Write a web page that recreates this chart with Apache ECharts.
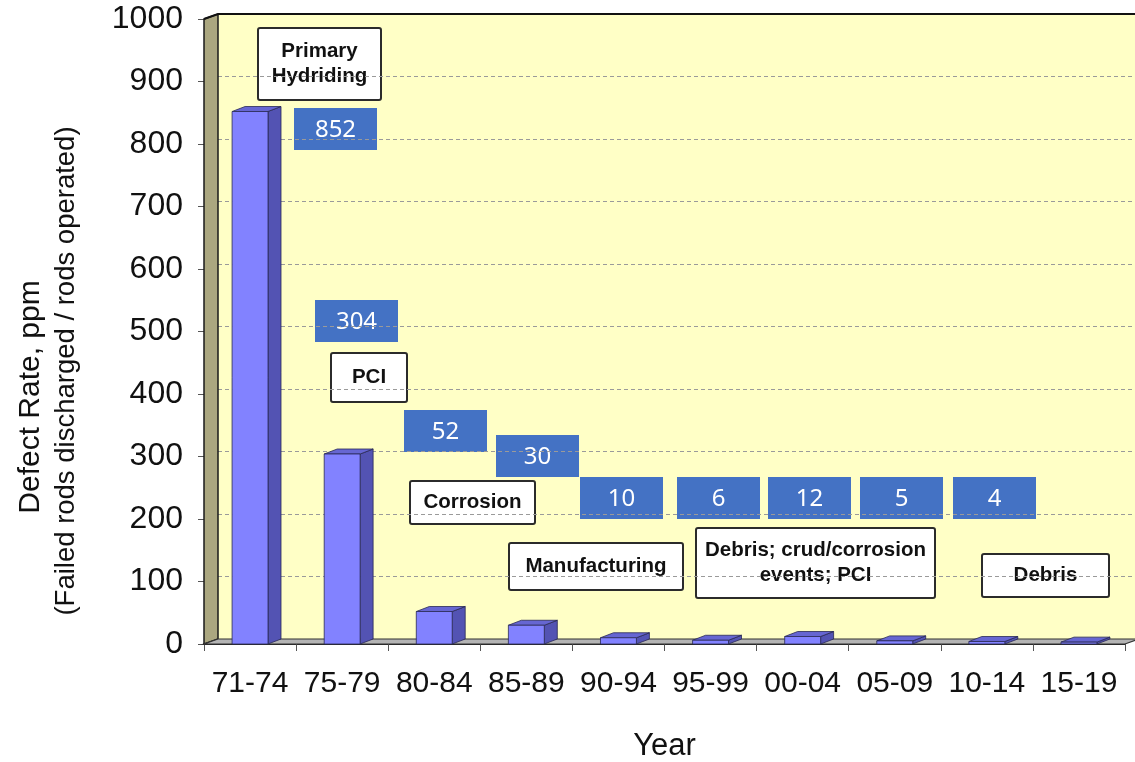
<!DOCTYPE html>
<html><head><meta charset="utf-8">
<script src="https://cdn.jsdelivr.net/npm/echarts@6/dist/echarts.min.js"></script>
<style>html,body{margin:0;padding:0;background:#fff}#c{width:1135px;height:762px}</style>
</head><body><div id="c"></div>
<script>
// ---- data ----
const categories = ['71-74','75-79','80-84','85-89','90-94','95-99','00-04','05-09','10-14','15-19'];
const defectRates = [852, 304, 52, 30, 10, 6, 12, 5, 4, 3];
const labelledRates = [852, 304, 52, 30, 10, 6, 12, 5, 4];
const causeTexts = ['Primary\nHydriding', 'PCI', 'Corrosion', 'Manufacturing', 'Debris; crud/corrosion\nevents; PCI', 'Debris'];
const yMin = 0, yMax = 1000, yStep = 100;

// ---- layout (annotation placement, px) ----
const valueBoxPos = [[294,108],[315,300],[404,410],[496,435],[580,477],[677,477],[768,477],[860,477],[953,477]];
const valueBoxSize = [83, 42];
const causeBoxPos = [[258,28,123,72],[331,353,76,49],[410,481,125,43],[509,543,174,47],[696,528,239,70],[982,554,127,43]];

const WALL_DX = 14, WALL_DY = 5;
const BAR_DX = 13, BAR_DY = 5;
const SANS = 'Liberation Sans, Arial, sans-serif';

function renderWalls(params, api) {
  const cs = params.coordSys;
  const x0 = cs.x, yT = cs.y, yB = cs.y + cs.height, xR = cs.x + cs.width;
  const dx = WALL_DX, dy = WALL_DY;
  return {type:'group', children:[
    {type:'polygon', shape:{points:[[x0,yT],[x0+dx,yT-dy],[x0+dx,yB-dy],[x0,yB]]},
      style:{fill:'#ABA780', stroke:'#1a1a1a', lineWidth:1.5}},
    {type:'polygon', shape:{points:[[x0,yB],[x0+dx,yB-dy],[xR+dx,yB-dy],[xR,yB]]},
      style:{fill:'#B4B4B4', stroke:'#333', lineWidth:1.2}},
    {type:'polyline', shape:{points:[[x0,yT],[x0+dx,yT-dy],[xR+dx+30,yT-dy]]},
      style:{stroke:'#111', lineWidth:2, fill:null}}
  ]};
}

function renderBar(params, api) {
  const idx = api.value(0), v = api.value(1);
  const base = api.coord([idx, 0]);
  const top = api.coord([idx, v]);
  const w = api.size([1, 0])[0] * 0.39;
  const x = base[0] - w / 2, y = top[1], yb = base[1];
  const dx = BAR_DX, dy = BAR_DY;
  const edge = {stroke:'#2a2a55', lineWidth:0.8};
  return {type:'group', children:[
    {type:'polygon', shape:{points:[[x+w,y],[x+w+dx,y-dy],[x+w+dx,yb-dy],[x+w,yb]]},
      style:Object.assign({fill:'#5353B3'}, edge)},
    {type:'polygon', shape:{points:[[x,y],[x+dx,y-dy],[x+w+dx,y-dy],[x+w,y]]},
      style:Object.assign({fill:'#6666D2'}, edge)},
    {type:'rect', shape:{x:x, y:y, width:w, height:yb - y},
      style:Object.assign({fill:'#8282FF'}, edge)}
  ]};
}

const graphics = [];
// y-axis titles
graphics.push({type:'text', x:31, y:397, rotation:Math.PI/2,
  style:{text:'Defect Rate, ppm', font:'30px ' + SANS, fill:'#111', align:'center', verticalAlign:'middle'}});
graphics.push({type:'text', x:66, y:371, rotation:Math.PI/2,
  style:{text:'(Failed rods discharged / rods operated)', font:'27.5px ' + SANS, fill:'#111', align:'center', verticalAlign:'middle'}});

causeTexts.forEach((t, i) => {
  const [bx, by, bw, bh] = causeBoxPos[i];
  graphics.push({type:'group', z:100, children:[
    {type:'rect', shape:{x:bx, y:by, width:bw, height:bh, r:2},
      style:{fill:'#fff', stroke:'#2b2b2b', lineWidth:2}},
    {type:'text', x:bx + bw/2, y:by + bh/2,
      style:{text:t, font:'bold 20.5px ' + SANS, fill:'#111', align:'center', verticalAlign:'middle', lineHeight:25}}
  ]});
});
labelledRates.forEach((v, i) => {
  const [bx, by] = valueBoxPos[i];
  const [bw, bh] = valueBoxSize;
  graphics.push({type:'group', z:100, children:[
    {type:'rect', shape:{x:bx, y:by, width:bw, height:bh}, style:{fill:'#4472C4'}},
    {type:'text', x:bx + bw/2, y:by + bh/2 + 1,
      style:{text:String(v), font:'24px "Noto Sans", "Open Sans", sans-serif', fill:'#fff', align:'center', verticalAlign:'middle'}}
  ]});
});

const chart = echarts.init(document.getElementById('c'), null, {renderer:'canvas'});
chart.setOption({
  animation:false,
  backgroundColor:'#fff',
  grid:[
    {left:204 + WALL_DX, top:19 - WALL_DY, width:921, bottom:118 + WALL_DY, show:true, backgroundColor:'#FFFFC6', borderWidth:0, outerBoundsMode:'none', containLabel:false},
    {left:204, top:19, width:921, bottom:118, outerBoundsMode:'none', containLabel:false}
  ],
  xAxis:[
    {type:'category', gridIndex:0, data:categories, show:false},
    {type:'category', gridIndex:1, data:categories,
      axisLine:{show:true, lineStyle:{color:'#222', width:2}},
      axisTick:{show:true, length:7, lineStyle:{color:'#555', width:1}},
      axisLabel:{fontSize:30, fontFamily:SANS, color:'#111', margin:25, interval:0},
      name:'Year', nameLocation:'middle', nameGap:87,
      nameTextStyle:{fontSize:31, fontFamily:SANS, color:'#111'}}
  ],
  yAxis:[
    {type:'value', gridIndex:0, min:yMin, max:yMax, interval:yStep,
      axisLine:{show:false}, axisTick:{show:false}, axisLabel:{show:false},
      splitLine:{show:true, lineStyle:{color:'#9a9a9a', type:[4,3], width:1.2}}},
    {type:'value', gridIndex:1, min:yMin, max:yMax, interval:yStep,
      axisLine:{show:false}, splitLine:{show:false},
      axisTick:{show:true, length:6, lineStyle:{color:'#555', width:1}},
      axisLabel:{fontSize:32, fontFamily:SANS, color:'#111', margin:21, formatter:(v) => String(v)}}
  ],
  series:[
    {type:'custom', xAxisIndex:1, yAxisIndex:1, z:2, silent:true,
      renderItem:renderWalls, data:[[0,0]]},
    {type:'custom', xAxisIndex:1, yAxisIndex:1, z:3,
      renderItem:renderBar, encode:{x:0, y:1},
      data:defectRates.map((v, i) => [i, v])}
  ],
  graphic:graphics
});
</script>
</body></html>
